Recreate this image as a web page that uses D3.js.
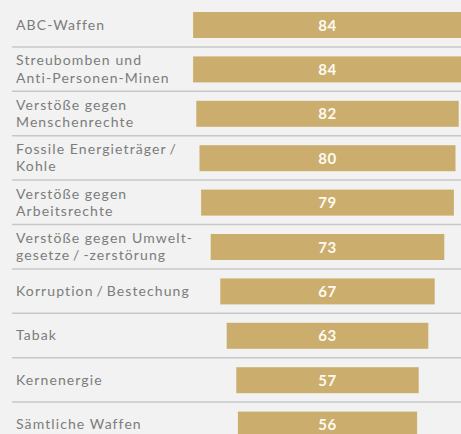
<!DOCTYPE html>
<html>
<head>
<meta charset="utf-8">
<script src="https://cdn.jsdelivr.net/npm/d3@7"></script>
<style>
  html, body { margin: 0; padding: 0; background: #f1f2f1; }
  svg { display: block; }
</style>
</head>
<body>
<div id="chart"></div>
<script>
var width = 461, height = 434;

// categories (line breaks as in the original labels)
var categories = [
    ['ABC-Waffen'],
    ['Streubomben und', 'Anti-Personen-Minen'],
    ['Verstöße gegen', 'Menschenrechte'],
    ['Fossile Energieträger\u2009/', 'Kohle'],
    ['Verstöße gegen', 'Arbeitsrechte'],
    ['Verstöße gegen Umwelt-', 'gesetze\u2009/\u2009-zerstörung'],
    ['Korruption\u2009/\u2009Bestechung'],
    ['Tabak'],
    ['Kernenergie'],
    ['Sämtliche Waffen']
];
var values = [84, 84, 82, 80, 79, 73, 67, 63, 57, 56];

var data = categories.map(function (c, i) {
    return { key: c.join(' '), lines: c, value: values[i] };
});

var svg = d3.select('#chart')
    .append('svg')
    .attr('width', width)
    .attr('height', height);

svg.append('rect')
    .attr('width', width)
    .attr('height', height)
    .attr('fill', '#f1f2f1');

var y = d3.scaleBand()
    .domain(data.map(d => d.key))
    .range([2.5, 2.5 + 44.4 * data.length]);

// bars are centred on one axis
var centerX = 327.5;
var w = d3.scaleLinear()
    .domain([0, 100])
    .range([0, 320]);

var barPad = 9.5, barH = 26;

// separators between rows
svg.selectAll('line.sep')
    .data(data.slice(0, -1))
    .enter()
    .append('line')
    .attr('class', 'sep')
    .attr('x1', 12)
    .attr('x2', width)
    .attr('y1', d => y(d.key) + y.bandwidth())
    .attr('y2', d => y(d.key) + y.bandwidth())
    .attr('stroke', '#c8c8c8')
    .attr('stroke-width', 1.5);

var rows = svg.selectAll('g.row')
    .data(data)
    .enter()
    .append('g')
    .attr('class', 'row')
    .attr('transform', d => 'translate(0,' + y(d.key) + ')');

rows.append('rect')
    .attr('x', d => centerX - w(d.value) / 2)
    .attr('y', barPad)
    .attr('width', d => w(d.value))
    .attr('height', barH)
    .attr('fill', '#cbae6d');

rows.append('text')
    .attr('x', centerX)
    .attr('y', barPad + barH / 2 + 5.5)
    .attr('text-anchor', 'middle')
    .attr('fill', '#fdfaf3')
    .style('font-family', 'Lato, sans-serif')
    .style('font-weight', 700)
    .style('font-size', '15px')
    .style('letter-spacing', '0.6px')
    .text(d => d.value);

// category labels, one or two lines, centred in the row
var lineH = 17.2;
rows.append('text')
    .attr('fill', '#7c7c7c')
    .style('font-family', 'Lato, sans-serif')
    .style('font-size', '14px')
    .style('letter-spacing', '1.1px')
    .each(function (d) {
        var t = d3.select(this);
        var first = y.bandwidth() / 2 + 5 - (d.lines.length - 1) * lineH / 2;
        d.lines.forEach(function (l, i) {
            t.append('tspan')
                .attr('x', 16)
                .attr('y', first + i * lineH)
                .text(l);
        });
    });
</script>
</body>
</html>
